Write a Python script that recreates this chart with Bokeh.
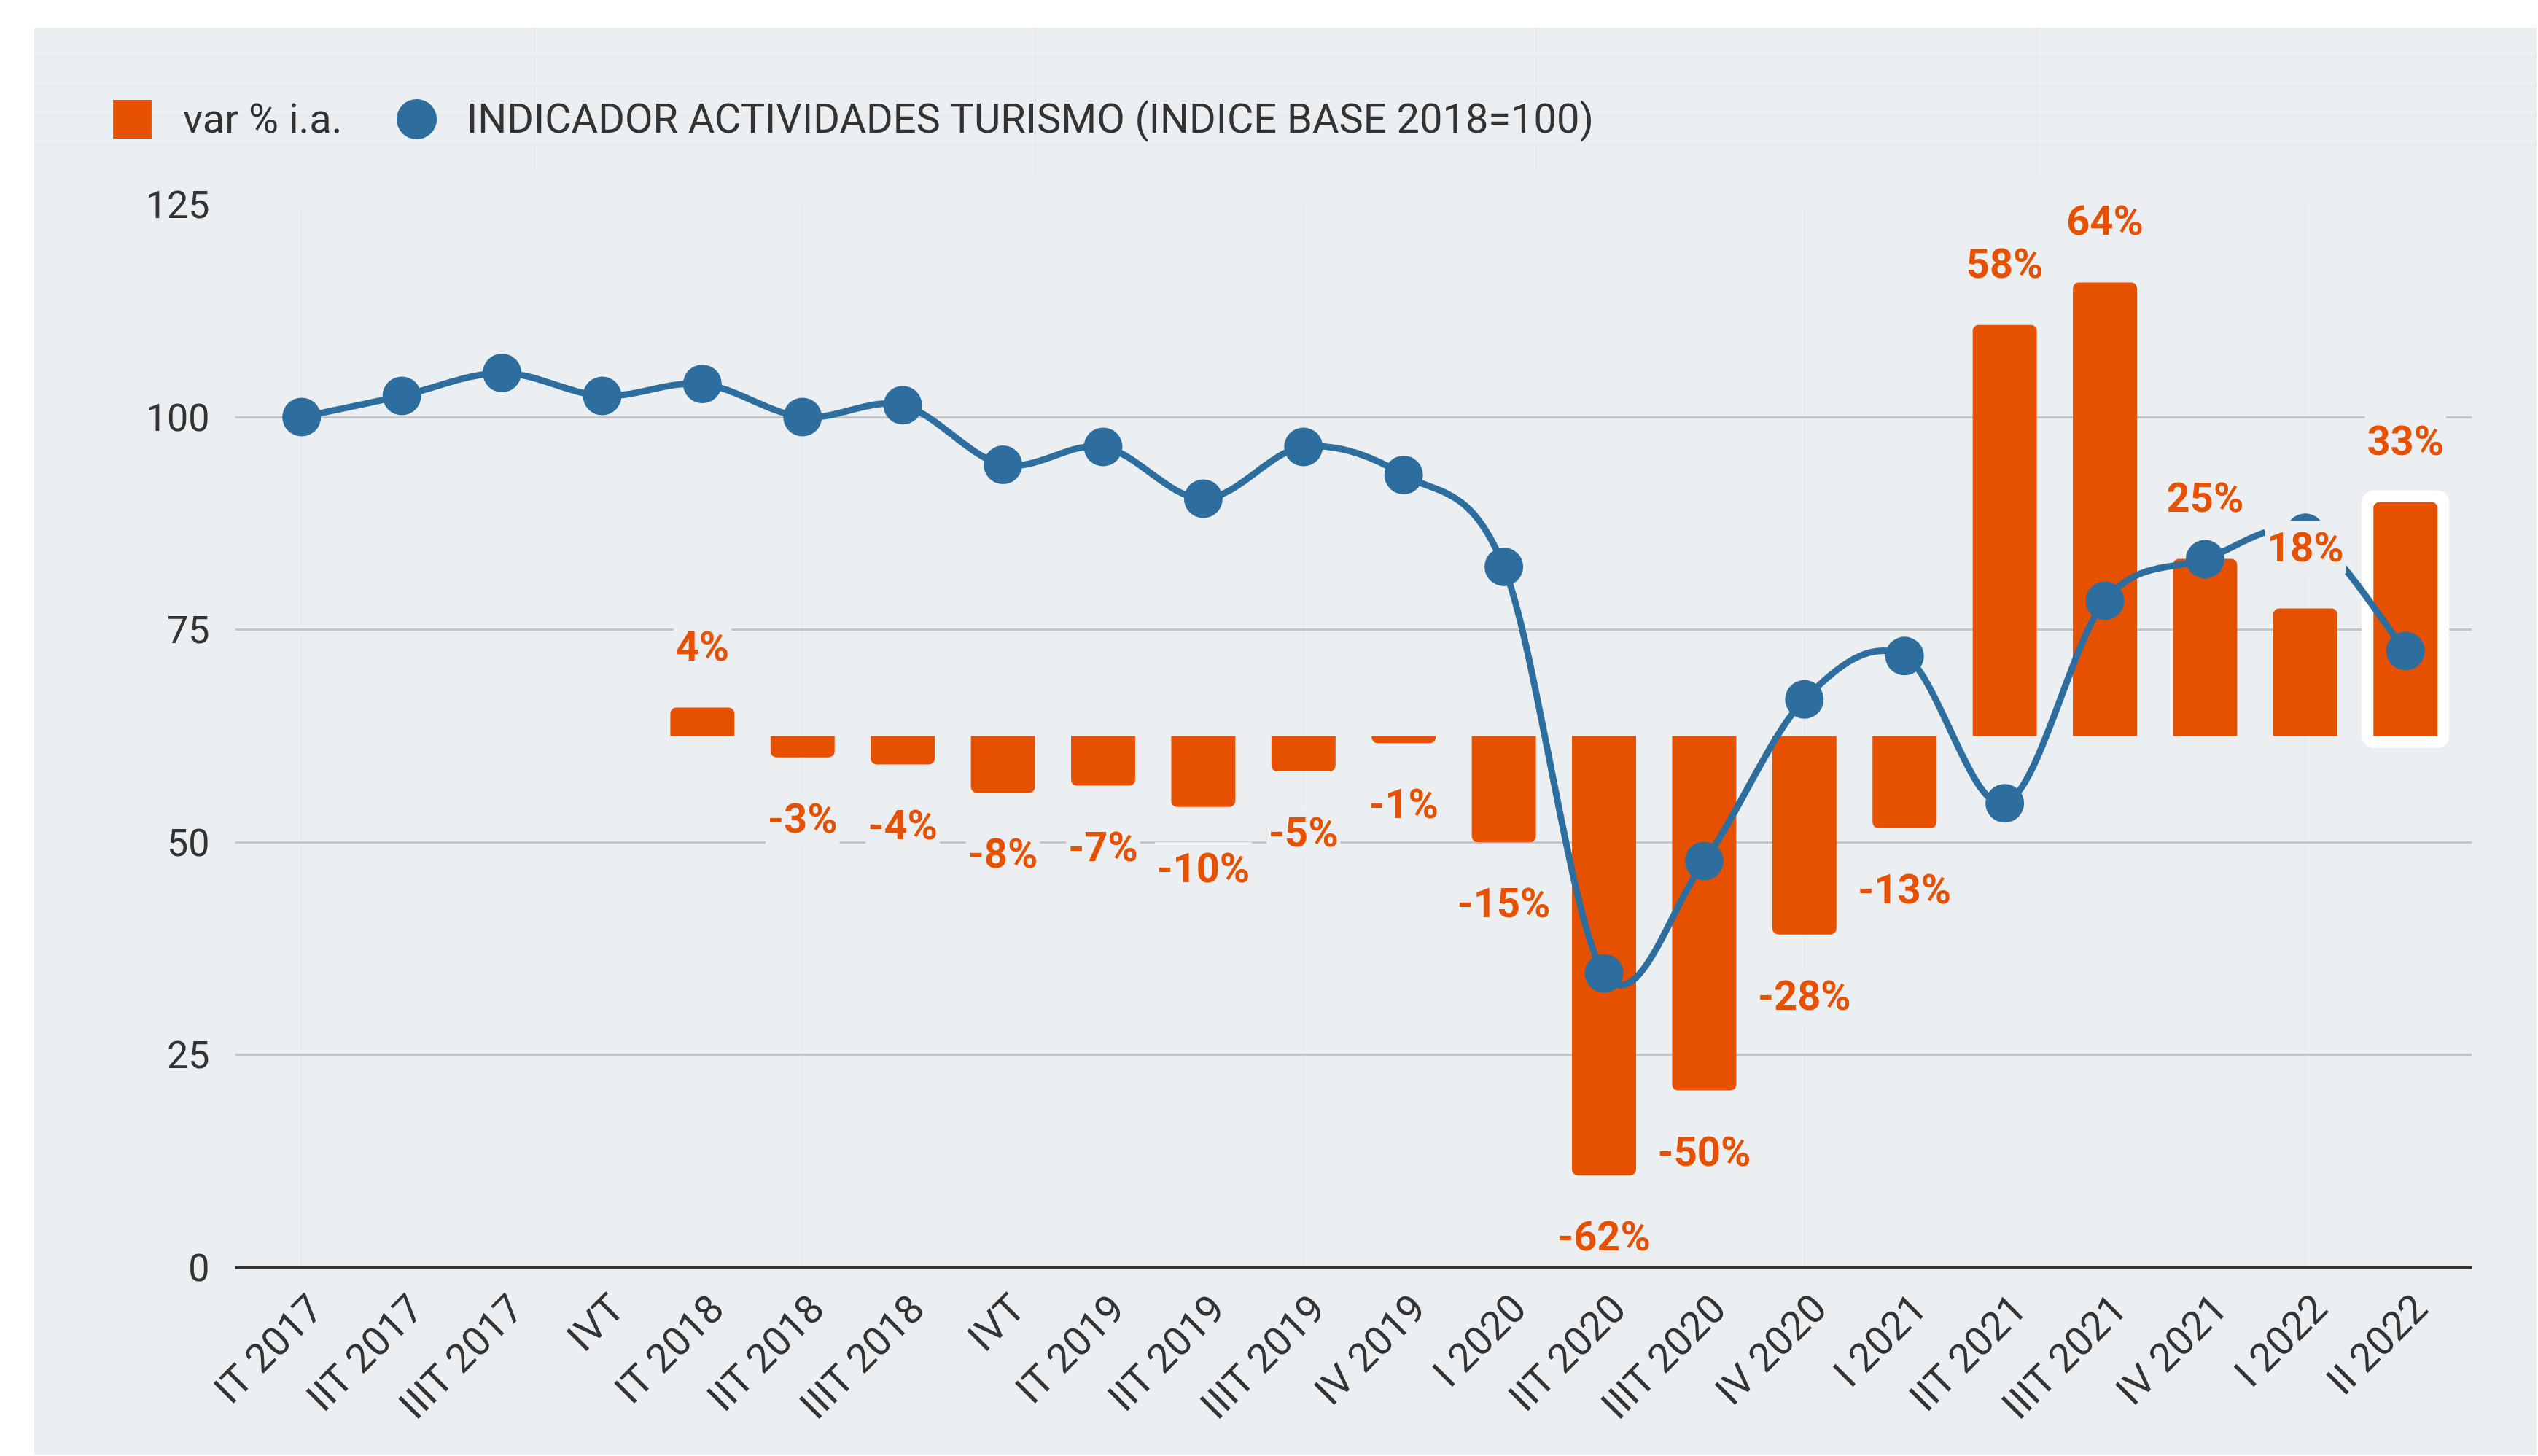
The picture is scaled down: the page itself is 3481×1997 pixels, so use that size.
import numpy as np
from math import pi
from bokeh.plotting import figure
from bokeh.layouts import column
from bokeh.models import (ColumnDataSource, Range1d, FixedTicker, Legend, LegendItem,
                          LinearAxis)
from bokeh.core.properties import value
from bokeh.embed import file_html
from bokeh.resources import INLINE

# ---------------- data ----------------
quarters = ["IT 2017", "IIT 2017", "IIIT 2017", "IVT", "IT 2018", "IIT 2018",
            "IIIT 2018", "IVT", "IT 2019", "IIT 2019", "IIIT 2019", "IV 2019",
            "I 2020", "IIT 2020", "IIIT 2020", "IV 2020", "I 2021", "IIT 2021",
            "IIIT 2021", "IV 2021", "I 2022", "II 2022"]
indicador = [100.0, 102.5, 105.2, 102.5, 103.9, 100.0, 101.4, 94.4, 96.5, 90.4,
             96.5, 93.2, 82.4, 34.6, 47.8, 66.8, 71.9, 54.6, 78.4, 83.3, 86.4, 72.5]
var_quarters = quarters[4:]
var_pct = [4, -3, -4, -8, -7, -10, -5, -1, -15, -62, -50, -28, -13, 58, 64, 25, 18, 33]
y_ticks = [0, 25, 50, 75, 100, 125]

name_var = "var % i.a."
name_ind = "INDICADOR ACTIVIDADES TURISMO (INDICE BASE 2018=100)"

# ---------------- style ----------------
BG = "#ECEFF1"
ORANGE = "#E65100"
BLUE = "#2D6E9E"
GRID = "#C3C7CA"
TXT = "#333333"
FONT = "Roboto"

W = 3432
H_LEG = 200
H_MAIN = 1757

# ---------------- legend strip ----------------
lf = figure(width=W, height=H_LEG, x_range=Range1d(0, 1), y_range=Range1d(0, 1),
            x_axis_location=None, y_axis_location=None, min_border=0,
            frame_align=False,
            output_backend="svg", toolbar_location=None)
lf.background_fill_color = BG
lf.border_fill_color = BG
lf.outline_line_color = None
# legend swatches (their single point lies outside the strip's ranges)
lr_bar = lf.vbar(x=[-1], top=[-1], width=0.5, fill_color=ORANGE, line_color=None)
lr_pt = lf.scatter(x=[-1], y=[-1], size=53, marker="circle", fill_color=BLUE, line_color=None)
leg_kw = dict(orientation="horizontal", padding=0, margin=0, border_line_color=None,
              background_fill_alpha=0, label_text_font=FONT, label_text_font_size="56px",
              label_text_color=TXT)
leg1 = Legend(items=[LegendItem(label=name_var, renderers=[lr_bar])], location=(101, 42),
              glyph_width=66, glyph_height=66, label_height=66, label_standoff=37, **leg_kw)
leg2 = Legend(items=[LegendItem(label=name_ind, renderers=[lr_pt])], location=(455, 6),
              glyph_width=138, glyph_height=138, label_height=138, label_standoff=-3, **leg_kw)
lf.add_layout(leg1)
lf.add_layout(leg2)

# ---------------- main chart ----------------
n = len(quarters)
x0, x1 = -0.664, n - 1 + 0.664
p = figure(width=W, height=H_MAIN,
           x_range=Range1d(x0, x1), y_range=Range1d(0, 125),
           x_axis_location=None, frame_align=False,
           output_backend="svg", toolbar_location=None,
           min_border_left=275, min_border_right=89,
           min_border_top=42, min_border_bottom=257)
p.extra_y_ranges = {"pct": Range1d(-75, 75)}
# labels of the category axis are hung by their top-right corner, as in the original
d = 0.146
p.extra_x_ranges = {"lab": Range1d(x0 - d, x1 - d)}
p.background_fill_color = BG
p.border_fill_color = BG
p.outline_line_color = None

xpos = list(range(n))
xax = LinearAxis(x_range_name="lab")
xax.ticker = FixedTicker(ticks=xpos)
xax.major_label_overrides = {i: q for i, q in zip(xpos, quarters)}
xax.major_label_orientation = pi / 4
xax.axis_line_color = TXT
xax.axis_line_width = 4
xax.major_tick_line_color = None
xax.minor_tick_line_color = None
xax.major_label_text_font = FONT
xax.major_label_text_font_size = "55px"
xax.major_label_text_color = TXT
xax.major_label_standoff = 40
p.add_layout(xax, "below")

p.yaxis.ticker = FixedTicker(ticks=y_ticks)
p.yaxis.axis_line_color = None
p.yaxis.major_tick_line_color = None
p.yaxis.minor_tick_line_color = None
p.yaxis.major_label_text_font = FONT
p.yaxis.major_label_text_font_size = "52px"
p.yaxis.major_label_text_color = TXT
p.yaxis.major_label_standoff = 29

p.ygrid.grid_line_color = GRID
p.ygrid.grid_line_width = 3

# ---------------- bars ----------------
var_x = [4 + i for i in range(len(var_quarters))]
labels = [f"{v}%" for v in var_pct]
pos = [i for i, v in enumerate(var_pct) if v >= 0]
neg = [i for i, v in enumerate(var_pct) if v < 0]
src_pos = ColumnDataSource(dict(x=[var_x[i] for i in pos], v=[var_pct[i] for i in pos],
                                lab=[labels[i] for i in pos]))
src_neg = ColumnDataSource(dict(x=[var_x[i] for i in neg], v=[var_pct[i] for i in neg],
                                lab=[labels[i] for i in neg]))
src_sel = ColumnDataSource(dict(x=[var_x[-1]], v=[var_pct[-1]]))

BW = 0.64
p.vbar(x="x", top="v", bottom=0, width=BW, source=src_sel, y_range_name="pct",
       fill_color="white", line_color="white", line_width=32, line_join="round")
p.vbar(x="x", top="v", bottom=0, width=BW, source=src_pos, y_range_name="pct",
       fill_color=ORANGE, line_color=None, border_radius=(8, 8, 0, 0))
p.vbar(x="x", top=0, bottom="v", width=BW, source=src_neg, y_range_name="pct",
       fill_color=ORANGE, line_color=None, border_radius=(0, 0, 8, 8))

# ---------------- smooth line ----------------
P = np.column_stack([np.array(xpos, dtype=float), np.array(indicador)])
Pm = np.vstack([P[0], P, P[-1]])
seg = dict(x0=[], y0=[], x1=[], y1=[], cx0=[], cy0=[], cx1=[], cy1=[])
for i in range(len(P) - 1):
    p0, p1, p2, p3 = Pm[i], Pm[i + 1], Pm[i + 2], Pm[i + 3]
    c1 = p1 + (p2 - p0) / 6.0
    c2 = p2 - (p3 - p1) / 6.0
    seg["x0"].append(p1[0]); seg["y0"].append(p1[1])
    seg["x1"].append(p2[0]); seg["y1"].append(p2[1])
    seg["cx0"].append(c1[0]); seg["cy0"].append(c1[1])
    seg["cx1"].append(c2[0]); seg["cy1"].append(c2[1])
p.bezier(x0="x0", y0="y0", x1="x1", y1="y1", cx0="cx0", cy0="cy0", cx1="cx1", cy1="cy1",
         source=ColumnDataSource(seg), line_color=BLUE, line_width=9, line_cap="round")
src_ind = ColumnDataSource(dict(x=xpos, y=indicador))
p.scatter(x="x", y="y", source=src_ind, size=53, marker="circle",
          fill_color=BLUE, line_color=None)

# ---------------- data labels ----------------
lab_kw = dict(y_range_name="pct", text_align="center", text_baseline="middle",
              text_font=value(FONT), text_font_style="bold", text_font_size="56px",
              text_color=ORANGE, background_fill_color=BG, padding=3)
p.text(x="x", y="v", text="lab", source=src_pos, y_offset=-84, **lab_kw)
p.text(x="x", y="v", text="lab", source=src_neg, y_offset=84, **lab_kw)

layout = column(lf, p, spacing=0, margin=(38, 0, 0, 47),
                styles={"background-color": BG})
open("out.html", "w").write(file_html(layout, INLINE))
